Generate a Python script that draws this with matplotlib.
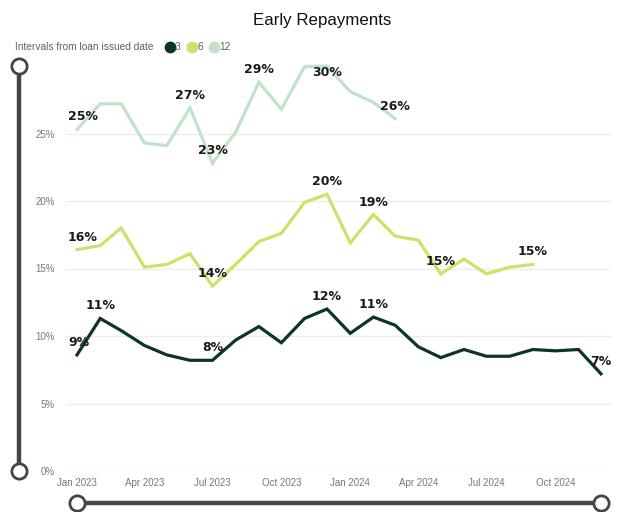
import matplotlib.pyplot as plt
import matplotlib.dates as mdates
from matplotlib.lines import Line2D
from matplotlib.transforms import blended_transform_factory
import pandas as pd

# data (percent)
months = pd.date_range('2023-01-01', periods=24, freq='MS')
series_names = ['3', '6', '12']
rate_3 = [8.6, 11.3, 10.4, 9.3, 8.6, 8.2, 8.2, 9.7, 10.7, 9.5, 11.3, 12.0,
          10.2, 11.4, 10.8, 9.2, 8.4, 9.0, 8.5, 8.5, 9.0, 8.9, 9.0, 7.2]
rate_6 = [16.4, 16.7, 18.0, 15.1, 15.3, 16.1, 13.7, 15.3, 17.0, 17.6, 19.9, 20.5,
          16.9, 19.0, 17.4, 17.1, 14.6, 15.7, 14.6, 15.1, 15.3]
rate_12 = [25.3, 27.2, 27.2, 24.3, 24.1, 26.9, 22.8, 25.1, 28.8, 26.8, 29.95, 30.0,
           28.1, 27.3, 26.1]
# which points carry a data label
labeled_3 = [0, 1, 6, 11, 13, 23]
labeled_6 = [0, 6, 11, 13, 16, 20]
labeled_12 = [0, 5, 6, 8, 11, 14]
y_ticks = [0, 5, 10, 15, 20, 25]
x_ticks = pd.date_range('2023-01-01', periods=8, freq='3MS')

colors = ['#0c3526', '#cfe06b', '#bfe3c8']
series = [rate_3, rate_6, rate_12]
labeled = [labeled_3, labeled_6, labeled_12]
y_max = 30.0

fig = plt.figure(figsize=(6.42, 5.12), dpi=100)
ax = fig.add_axes([66 / 642, 1 - 471 / 512, (611 - 66) / 642, (471 - 66) / 512])

for vals, col in zip(series, colors):
    ax.plot(months[:len(vals)], vals, color=col, lw=2.3, solid_joinstyle='miter',
            zorder=3, clip_on=False)

for vals, idxs in zip(series, labeled):
    for i in idxs:
        v = vals[i]
        dy = 9 if v < y_max else -4.5
        if i == 0:
            ax.annotate(f'{round(v):.0f}%', (months[i], v), xytext=(-6.5, dy),
                        textcoords='offset points', ha='left', va='center',
                        fontsize=9, fontweight='bold', color='#1a1a1a', zorder=5)
        else:
            ax.annotate(f'{round(v):.0f}%', (months[i], v), xytext=(0, dy),
                        textcoords='offset points', ha='center', va='center',
                        fontsize=9, fontweight='bold', color='#1a1a1a', zorder=5)

ax.set_ylim(0, y_max)
ax.set_xlim(months[0] - pd.Timedelta(days=14.7), months[-1] + pd.Timedelta(days=13.4))
ax.set_yticks(y_ticks)
ax.set_yticklabels([f'{t}%' for t in y_ticks])
ax.set_xticks(x_ticks)
ax.xaxis.set_major_formatter(mdates.DateFormatter('%b %Y'))
ax.tick_params(length=0, labelsize=7, labelcolor='#777777', pad=5)
for lab in ax.get_xticklabels() + ax.get_yticklabels():
    lab.set_family('Liberation Sans')
ax.tick_params(axis='y', pad=8)
ax.grid(axis='y', color='#ececec', lw=1)
ax.set_axisbelow(True)
for s in ax.spines.values():
    s.set_visible(False)

# title and legend
fig.text(0.502, 1 - 20 / 512, 'Early Repayments', ha='center', va='center',
         fontsize=12.2, color='#111111', family='Liberation Sans')
fig.text(15 / 642, 1 - 47 / 512, 'Intervals from loan issued date', ha='left', va='center',
         fontsize=7.3, color='#606060', family='Liberation Sans')
leg_x = [170, 192, 214]
for lx, name, col in zip(leg_x, series_names, colors):
    fig.add_artist(Line2D([lx / 642], [1 - 47 / 512], marker='o', ms=7.5, color=col,
                          transform=fig.transFigure))
    fig.text((lx + 5) / 642, 1 - 47 / 512, name, ha='left', va='center',
             fontsize=7.3, color='#606060', family='Liberation Sans')

# zoom sliders (decoration)
slider_col = '#454545'
vx = 19 / 642
fig.add_artist(Line2D([vx, vx], [1 - 471 / 512, 1 - 66 / 512], color=slider_col, lw=3.2,
                      transform=fig.transFigure, zorder=1))
for yy in [66, 471]:
    fig.add_artist(Line2D([vx], [1 - yy / 512], marker='o', ms=11, mfc='white',
                          mec=slider_col, mew=2, transform=fig.transFigure, zorder=2))
tr = blended_transform_factory(ax.transData, fig.transFigure)
hy = 1 - 503 / 512
x0, x1 = mdates.date2num(months[0]), mdates.date2num(months[-1])
fig.add_artist(Line2D([x0, x1], [hy, hy], color=slider_col, lw=3.2, transform=tr, zorder=1))
for xx in [x0, x1]:
    fig.add_artist(Line2D([xx], [hy], marker='o', ms=11, mfc='white',
                          mec=slider_col, mew=2, transform=tr, zorder=2))

fig.savefig('out.png', dpi=100)
